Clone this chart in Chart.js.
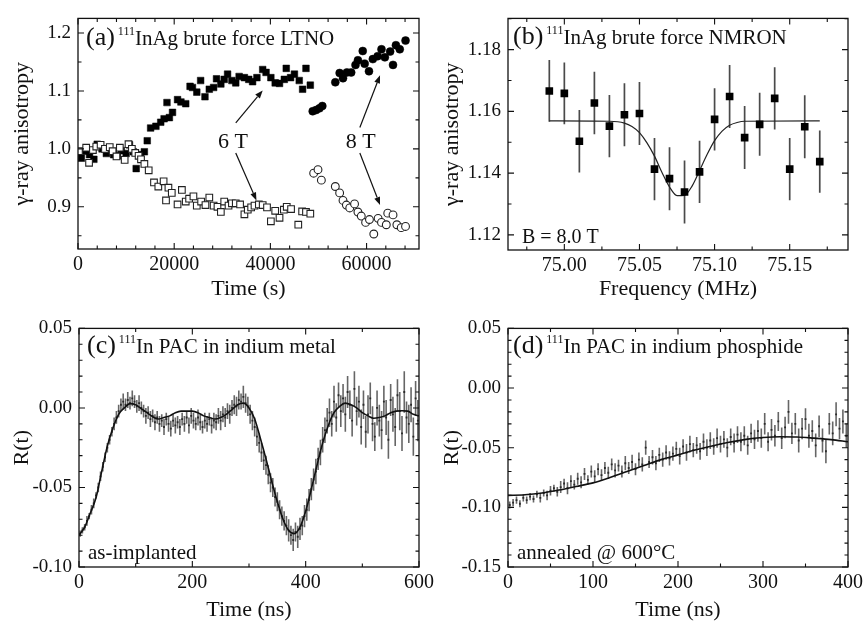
<!DOCTYPE html>
<html>
<head>
<meta charset="utf-8">
<script src="https://cdn.jsdelivr.net/npm/chart.js@4.4.1/dist/chart.umd.min.js"></script>
<style>
  html, body { margin: 0; padding: 0; background: #fff; }
  #wrap { position: relative; width: 867px; height: 627px; overflow: hidden; background: #fff; }
  canvas { position: absolute; }
</style>
</head>
<body>
<div id="wrap">
  <canvas id="chartC" width="445" height="317" style="left:0;top:310px"></canvas>
  <canvas id="chartD" width="437" height="317" style="left:430px;top:310px"></canvas>
  <canvas id="chartA" width="430" height="305" style="left:0;top:0"></canvas>
  <canvas id="chartB" width="437" height="305" style="left:430px;top:0"></canvas>
</div>
<script>
const FONT = '"Liberation Serif", "Times New Roman", Times, serif';
const INK = '#111';

// ---------------- (a) brute force LTNO ----------------
const aXTicks = [0, 20000, 40000, 60000];
const aYTicks = [0.9, 1.0, 1.1, 1.2];
// [time (s), anisotropy]
const aFilledSquares = [
  [700, 0.984], [1600, 0.996], [2400, 0.990], [3300, 0.982], [4000, 1.008], [5000, 1.000],
  [5900, 0.992], [6800, 0.995], [7400, 0.990], [8200, 0.988], [9000, 0.997], [10000, 0.992],
  [10700, 1.007], [11500, 0.995], [12100, 0.966], [13000, 0.990], [13800, 0.995], [14400, 1.014],
  [15100, 1.036], [16200, 1.039], [17200, 1.046], [17900, 1.052], [18500, 1.080], [19000, 1.054],
  [19650, 1.063], [20700, 1.085], [21400, 1.081], [22400, 1.078], [23300, 1.108], [23800, 1.106],
  [24700, 1.098], [25500, 1.118], [26400, 1.090], [27300, 1.103], [28200, 1.106], [28800, 1.121],
  [29700, 1.112], [30400, 1.120], [31100, 1.129], [32000, 1.118], [32800, 1.114], [33500, 1.125],
  [34600, 1.123], [35500, 1.120], [36300, 1.116], [37200, 1.123], [38400, 1.137], [39100, 1.132],
  [40100, 1.123], [41000, 1.114], [41900, 1.113], [42900, 1.120], [43300, 1.139], [44200, 1.123],
  [45000, 1.129], [46000, 1.118], [46700, 1.103], [47400, 1.139], [48300, 1.110]
];
const aOpenSquares = [
  [200, 0.996], [1700, 1.002], [2300, 0.976], [3100, 0.998], [3800, 1.004], [4700, 1.007],
  [5600, 1.000], [6600, 1.003], [7200, 0.996], [8000, 0.987], [8700, 1.002], [9700, 0.981],
  [10500, 1.008], [11200, 1.000], [11900, 0.993], [12600, 0.988], [13100, 0.982], [13800, 0.974],
  [14700, 0.963], [15800, 0.942], [16700, 0.935], [17800, 0.944], [18300, 0.911], [18800, 0.933],
  [19500, 0.924], [20700, 0.904], [21600, 0.929], [22400, 0.909], [23100, 0.914], [24000, 0.918],
  [24700, 0.902], [25600, 0.909], [26500, 0.903], [27300, 0.916], [28200, 0.902], [29000, 0.900],
  [29700, 0.891], [30400, 0.909], [31300, 0.902], [32000, 0.906], [32800, 0.906], [33700, 0.904],
  [34600, 0.887], [35300, 0.895], [36000, 0.899], [36700, 0.902], [37600, 0.904], [38400, 0.903],
  [39300, 0.899], [40100, 0.875], [41000, 0.893], [41900, 0.881], [42800, 0.895], [43400, 0.900],
  [44300, 0.896], [45800, 0.869], [46600, 0.892], [47400, 0.891], [48300, 0.888]
];
const aFilledCircles = [
  [48800, 1.065], [49500, 1.067], [50200, 1.070], [50800, 1.074], [53500, 1.115], [54400, 1.131],
  [55100, 1.122], [55900, 1.132], [56800, 1.132], [57700, 1.145], [58200, 1.153], [59200, 1.169],
  [59600, 1.147], [60500, 1.134], [61300, 1.155], [62300, 1.160], [63100, 1.172], [63800, 1.158],
  [64900, 1.168], [65500, 1.145], [66100, 1.179], [66900, 1.172], [68100, 1.187]
];
const aOpenCircles = [
  [49000, 0.958], [49900, 0.964], [50600, 0.946], [53500, 0.935], [54400, 0.924], [55100, 0.911],
  [55800, 0.903], [56500, 0.898], [57500, 0.905], [58200, 0.891], [58900, 0.884], [59800, 0.873],
  [60600, 0.878], [61500, 0.853], [62400, 0.880], [63100, 0.873], [64100, 0.869], [64400, 0.889],
  [65500, 0.886], [66300, 0.869], [67200, 0.864], [68100, 0.866]
];
const aFieldLabels = [
  { text: '6 T', x: 32200, y: 1.012 },
  { text: '8 T', x: 58800, y: 1.012 }
];
// [x0, y0, x1, y1] in data units, head at (x1, y1)
const aArrows = [
  [32800, 1.045, 38400, 1.101],
  [32800, 0.993, 37100, 0.911],
  [58600, 1.037, 62800, 1.127],
  [58600, 0.993, 62800, 0.903]
];

// ---------------- (b) NMRON ----------------
const bXTicks = [75.00, 75.05, 75.10, 75.15];
const bYTicks = [1.12, 1.14, 1.16, 1.18];
const bFreq = [74.99, 75.00, 75.01, 75.02, 75.03, 75.04, 75.05, 75.06, 75.07, 75.08,
               75.09, 75.10, 75.11, 75.12, 75.13, 75.14, 75.15, 75.16, 75.17];
const bAniso = [1.1666, 1.1658, 1.1503, 1.1627, 1.1552, 1.1589, 1.1593, 1.1413, 1.1382, 1.1339,
                1.1404, 1.1574, 1.1648, 1.1515, 1.1558, 1.1642, 1.1413, 1.1550, 1.1437];
const bErr = [0.0100, 0.0100, 0.0101, 0.0101, 0.0101, 0.0102, 0.0102, 0.0101, 0.0102, 0.0102,
              0.0101, 0.0101, 0.0102, 0.0102, 0.0102, 0.0101, 0.0101, 0.0102, 0.0101];
const bFitX = [74.99, 75.03, 75.04, 75.045, 75.05, 75.055, 75.06, 75.065, 75.07, 75.075, 75.08,
               75.085, 75.09, 75.095, 75.10, 75.105, 75.11, 75.115, 75.12, 75.17];
const bFitY = [1.1569, 1.1568, 1.1562, 1.1551, 1.1531, 1.1498, 1.1455, 1.1402, 1.1355, 1.1327, 1.1328,
               1.1358, 1.1408, 1.1460, 1.1505, 1.1536, 1.1555, 1.1564, 1.1568, 1.1569];

// ---------------- (c) PAC in indium metal ----------------
const cXTicks = [0, 200, 400, 600];
const cYTicks = [-0.10, -0.05, 0.00, 0.05];
const cStart = 2, cStep = 4; // channel times in ns
const cR = [
  -0.079, -0.077, -0.075, -0.071, -0.068, -0.064, -0.060, -0.055, -0.050, -0.043,
  -0.037, -0.031, -0.025, -0.020, -0.015, -0.010, -0.006, -0.002, 0.002, 0.004,
  0.002, 0.005, 0.003, 0.006, 0.004, 0.001, 0.003, 0.000, -0.002, -0.005,
  -0.003, -0.007, -0.005, -0.009, -0.006, -0.010, -0.008, -0.012, -0.007, -0.010,
  -0.013, -0.008, -0.011, -0.009, -0.012, -0.007, -0.010, -0.006, -0.011, -0.005,
  -0.008, -0.010, -0.006, -0.009, -0.012, -0.008, -0.010, -0.007, -0.011, -0.008,
  -0.009, -0.005, -0.008, -0.004, -0.006, -0.002, -0.004, 0.000, 0.002, 0.001,
  0.005, 0.004, 0.007, 0.003, 0.001, -0.004, -0.008, -0.012, -0.018, -0.022,
  -0.028, -0.033, -0.036, -0.042, -0.047, -0.050, -0.056, -0.059, -0.064, -0.068,
  -0.071, -0.074, -0.077, -0.080, -0.083, -0.078, -0.081, -0.076, -0.074, -0.068,
  -0.064, -0.058, -0.051, -0.045, -0.040, -0.032, -0.028, -0.020, -0.014, -0.008,
  -0.003, -0.010, 0.004, -0.006, 0.008, -0.002, 0.006, -0.004, 0.010, 0.002,
  -0.008, 0.012, -0.002, 0.004, -0.012, 0.002, -0.015, -0.004, 0.006, -0.010,
  -0.018, 0.000, -0.008, -0.014, 0.004, -0.006, -0.020, 0.005, -0.004, -0.012,
  0.008, -0.002, -0.016, 0.010, -0.006, -0.010, 0.002, -0.018, 0.006, -0.008
];
const cErr = [
  0.002, 0.002, 0.002, 0.003, 0.002, 0.003, 0.003, 0.002, 0.003, 0.003,
  0.003, 0.003, 0.003, 0.003, 0.003, 0.004, 0.004, 0.004, 0.004, 0.005,
  0.004, 0.005, 0.004, 0.005, 0.004, 0.004, 0.005, 0.004, 0.004, 0.005,
  0.004, 0.005, 0.004, 0.005, 0.004, 0.005, 0.004, 0.005, 0.004, 0.005,
  0.005, 0.004, 0.005, 0.004, 0.005, 0.004, 0.005, 0.004, 0.005, 0.005,
  0.005, 0.004, 0.005, 0.005, 0.004, 0.005, 0.005, 0.004, 0.005, 0.005,
  0.005, 0.005, 0.006, 0.005, 0.006, 0.005, 0.006, 0.005, 0.006, 0.006,
  0.006, 0.005, 0.007, 0.006, 0.006, 0.006, 0.006, 0.006, 0.006, 0.006,
  0.006, 0.006, 0.006, 0.006, 0.006, 0.006, 0.006, 0.006, 0.006, 0.006,
  0.006, 0.006, 0.007, 0.006, 0.007, 0.006, 0.007, 0.007, 0.006, 0.007,
  0.007, 0.007, 0.007, 0.007, 0.008, 0.007, 0.008, 0.008, 0.008, 0.008,
  0.009, 0.008, 0.010, 0.009, 0.008, 0.010, 0.009, 0.011, 0.010, 0.009,
  0.010, 0.011, 0.009, 0.010, 0.011, 0.009, 0.010, 0.012, 0.010, 0.011,
  0.009, 0.011, 0.010, 0.012, 0.010, 0.011, 0.012, 0.010, 0.011, 0.012,
  0.010, 0.012, 0.011, 0.013, 0.010, 0.012, 0.011, 0.012, 0.011, 0.013
];
const cFitStep = 10;
const cFit = [
  -0.080, -0.075, -0.066, -0.0565, -0.040, -0.024, -0.0125, -0.004, 0.000, 0.0027,
  0.002, -0.0005, -0.003, -0.0055, -0.007, -0.006, -0.005, -0.003, -0.002, -0.002,
  -0.002, -0.003, -0.005, -0.006, -0.007, -0.006, -0.004, -0.001, 0.002, 0.003,
  0.000, -0.007, -0.019, -0.032, -0.046, -0.059, -0.070, -0.077, -0.079, -0.075,
  -0.065, -0.051, -0.036, -0.022, -0.011, -0.003, 0.001, 0.003, 0.002, 0.000,
  -0.003, -0.005, -0.0065, -0.006, -0.005, -0.003, -0.002, -0.0018, -0.002, -0.004,
  -0.005
];

// ---------------- (d) PAC in indium phosphide ----------------
const dXTicks = [0, 100, 200, 300, 400];
const dYTicks = [-0.15, -0.10, -0.05, 0.00, 0.05];
const dStart = 2, dStep = 4;
const dR = [
  -0.098, -0.096, -0.094, -0.097, -0.092, -0.094, -0.091, -0.093, -0.089, -0.092,
  -0.088, -0.090, -0.086, -0.084, -0.087, -0.083, -0.080, -0.084, -0.078, -0.081,
  -0.076, -0.079, -0.072, -0.077, -0.070, -0.074, -0.068, -0.073, -0.067, -0.071,
  -0.064, -0.069, -0.065, -0.070, -0.063, -0.067, -0.062, -0.068, -0.060, -0.064,
  -0.050, -0.062, -0.058, -0.063, -0.056, -0.060, -0.054, -0.059, -0.055, -0.051,
  -0.057, -0.049, -0.054, -0.047, -0.052, -0.048, -0.053, -0.045, -0.050, -0.044,
  -0.049, -0.042, -0.047, -0.043, -0.050, -0.041, -0.046, -0.039, -0.045, -0.040,
  -0.048, -0.038, -0.043, -0.036, -0.042, -0.030, -0.045, -0.035, -0.040, -0.028,
  -0.042, -0.033, -0.020, -0.038, -0.030, -0.044, -0.034, -0.026, -0.040, -0.036,
  -0.048, -0.032, -0.044, -0.053, -0.030, -0.038, -0.022, -0.034, -0.028, -0.040
];
const dErr = [
  0.003, 0.003, 0.003, 0.003, 0.003, 0.003, 0.003, 0.003, 0.003, 0.004,
  0.003, 0.004, 0.004, 0.003, 0.004, 0.005, 0.004, 0.005, 0.005, 0.004,
  0.005, 0.005, 0.005, 0.004, 0.005, 0.005, 0.005, 0.005, 0.005, 0.005,
  0.005, 0.006, 0.005, 0.005, 0.006, 0.005, 0.006, 0.005, 0.006, 0.006,
  0.006, 0.005, 0.006, 0.006, 0.006, 0.006, 0.006, 0.006, 0.006, 0.006,
  0.007, 0.006, 0.007, 0.007, 0.006, 0.007, 0.007, 0.007, 0.007, 0.007,
  0.007, 0.008, 0.007, 0.007, 0.008, 0.007, 0.008, 0.007, 0.008, 0.008,
  0.008, 0.008, 0.008, 0.009, 0.008, 0.009, 0.008, 0.009, 0.009, 0.008,
  0.009, 0.009, 0.010, 0.009, 0.009, 0.010, 0.009, 0.009, 0.010, 0.009,
  0.010, 0.009, 0.010, 0.010, 0.009, 0.010, 0.010, 0.009, 0.010, 0.010
];
const dFitStep = 20;
const dFit = [
  -0.0900, -0.0895, -0.0880, -0.0855, -0.0825, -0.0795, -0.0750, -0.0700, -0.0650, -0.0600,
  -0.0560, -0.0520, -0.0485, -0.0455, -0.0430, -0.0415, -0.0408, -0.0410, -0.0420, -0.0432,
  -0.0450
];

// ---------------- helpers ----------------
const pairs = arr => arr.map(([x, y]) => ({ x, y }));
const series = (xs, ys) => ys.map((y, i) => ({ x: xs[i], y }));
const grid = (start, step, n) => Array.from({ length: n }, (_, i) => start + i * step);

function errorBars(xs, ys, es) {
  const pts = [];
  xs.forEach((x, i) => {
    pts.push({ x, y: ys[i] - es[i] }, { x, y: ys[i] + es[i] }, { x, y: null });
  });
  return pts;
}

function buildScale(o) {
  return {
    type: 'linear',
    min: o.min,
    max: o.max,
    grid: { display: false, drawTicks: false },
    border: { display: false },
    ticks: {
      color: INK,
      font: { family: FONT, size: o.fontSize },
      padding: o.pad,
      maxRotation: 0,
      autoSkip: false,
      callback: v => o.fmt(v)
    },
    afterBuildTicks: s => { s.ticks = o.ticks.map(v => ({ value: v })); },
    afterFit: s => { if (o.horizontal) s.height = o.extent; else s.width = o.extent; },
    title: {
      display: true,
      text: o.title,
      color: INK,
      font: { family: FONT, size: 22 },
      padding: o.titlePad
    }
  };
}

// box with inward major/minor ticks on all four sides
const framePlugin = {
  id: 'frame',
  afterDatasetsDraw(chart) {
    const f = chart.options.plugins.frame;
    const { ctx, chartArea: a, scales: { x, y } } = chart;
    ctx.save();
    ctx.strokeStyle = INK;
    ctx.lineWidth = 1.3;
    ctx.strokeRect(a.left, a.top, a.right - a.left, a.bottom - a.top);
    ctx.lineWidth = 1.1;
    const marks = (scale, major, minor, draw) => {
      const k0 = Math.ceil(scale.min / minor - 1e-6);
      const k1 = Math.floor(scale.max / minor + 1e-6);
      for (let k = k0; k <= k1; k++) {
        const v = k * minor;
        const r = v / major;
        const isMajor = Math.abs(r - Math.round(r)) < 1e-6;
        draw(scale.getPixelForValue(v), isMajor ? 6 : 3.5);
      }
    };
    ctx.beginPath();
    marks(x, f.xMajor, f.xMinor, (px, len) => {
      ctx.moveTo(px, a.bottom); ctx.lineTo(px, a.bottom - len);
      ctx.moveTo(px, a.top); ctx.lineTo(px, a.top + len);
    });
    marks(y, f.yMajor, f.yMinor, (py, len) => {
      ctx.moveTo(a.left, py); ctx.lineTo(a.left + len, py);
      ctx.moveTo(a.right, py); ctx.lineTo(a.right - len, py);
    });
    ctx.stroke();
    ctx.restore();
  }
};

// panel label, corner notes, field labels and arrows
const notesPlugin = {
  id: 'notes',
  afterDraw(chart) {
    const o = chart.options.plugins.notes;
    const { ctx, chartArea: a, scales: { x, y } } = chart;
    ctx.save();
    ctx.fillStyle = INK;
    ctx.strokeStyle = INK;
    ctx.textAlign = 'left';
    ctx.textBaseline = 'alphabetic';

    let cx = a.left + o.label.dx;
    const base = a.top + o.label.dy;
    o.label.parts.forEach(p => {
      ctx.font = `${p.size}px ${FONT}`;
      ctx.fillText(p.text, cx, base - (p.rise || 0));
      cx += ctx.measureText(p.text).width + (p.gap || 0);
    });

    (o.corner || []).forEach(t => {
      ctx.font = `${t.size}px ${FONT}`;
      ctx.fillText(t.text, a.left + t.dx, a.top + t.dy);
    });

    ctx.textAlign = 'center';
    ctx.textBaseline = 'middle';
    (o.fieldLabels || []).forEach(t => {
      ctx.font = `22px ${FONT}`;
      ctx.fillText(t.text, x.getPixelForValue(t.x), y.getPixelForValue(t.y));
    });

    ctx.lineWidth = 1.2;
    (o.arrows || []).forEach(([x0, y0, x1, y1]) => {
      const px0 = x.getPixelForValue(x0), py0 = y.getPixelForValue(y0);
      const px1 = x.getPixelForValue(x1), py1 = y.getPixelForValue(y1);
      const ang = Math.atan2(py1 - py0, px1 - px0);
      const hl = 8, hw = 3;
      const bx = px1 - hl * Math.cos(ang), by = py1 - hl * Math.sin(ang);
      ctx.beginPath();
      ctx.moveTo(px0, py0);
      ctx.lineTo(bx, by);
      ctx.stroke();
      ctx.beginPath();
      ctx.moveTo(px1, py1);
      ctx.lineTo(bx + hw * Math.sin(ang), by - hw * Math.cos(ang));
      ctx.lineTo(bx - hw * Math.sin(ang), by + hw * Math.cos(ang));
      ctx.closePath();
      ctx.fill();
    });
    ctx.restore();
  }
};

function makeChart(id, datasets, cfg) {
  return new Chart(document.getElementById(id), {
    type: 'scatter',
    data: { datasets },
    plugins: [framePlugin, notesPlugin],
    options: {
      responsive: false,
      animation: false,
      events: [],
      layout: { autoPadding: false, padding: cfg.padding },
      scales: { x: buildScale(cfg.x), y: buildScale(cfg.y) },
      plugins: {
        legend: { display: false },
        tooltip: { enabled: false },
        frame: cfg.frame,
        notes: cfg.notes
      }
    }
  });
}

const fmt = d => v => Number(v).toFixed(d);
const title = (tag, rest) => ([
  { text: tag, size: 26, gap: 3 },
  { text: '111', size: 12, rise: 10 },
  { text: rest, size: 21 }
]);

// ---------------- (a) ----------------
makeChart('chartA', [
  { data: pairs(aOpenSquares), pointStyle: 'rect', radius: 4.7, backgroundColor: '#fff', borderColor: '#222', borderWidth: 1.1 },
  { data: pairs(aFilledSquares), pointStyle: 'rect', radius: 4.7, backgroundColor: '#000', borderColor: '#000', borderWidth: 0.5 },
  { data: pairs(aOpenCircles), pointStyle: 'circle', radius: 3.9, backgroundColor: '#fff', borderColor: '#222', borderWidth: 1.1 },
  { data: pairs(aFilledCircles), pointStyle: 'circle', radius: 4, backgroundColor: '#000', borderColor: '#000', borderWidth: 0.5 }
], {
  padding: { top: 7, right: 11, left: 0, bottom: 0 },
  x: { min: 0, max: 70900, ticks: aXTicks, fmt: fmt(0), fontSize: 20, pad: 4, horizontal: true, extent: 56,
       title: 'Time (s)', titlePad: { bottom: 3 } },
  y: { min: 0.8271, max: 1.2253, ticks: aYTicks, fmt: fmt(1), fontSize: 19, pad: 7, extent: 78,
       title: 'γ-ray anisotropy', titlePad: { top: 9 } },
  frame: { xMajor: 20000, xMinor: 4000, yMajor: 0.1, yMinor: 0.05 },
  notes: {
    label: { dx: 8, dy: 27, parts: title('(a)', 'InAg brute force LTNO') },
    fieldLabels: aFieldLabels,
    arrows: aArrows
  }
});

// ---------------- (b) ----------------
makeChart('chartB', [
  { data: series(bFreq, bAniso), pointStyle: 'rect', radius: 5.4, backgroundColor: '#000', borderColor: '#000', borderWidth: 0 },
  { data: series(bFitX, bFitY), showLine: true, pointRadius: 0, borderColor: '#222', borderWidth: 1.2,
    cubicInterpolationMode: 'monotone' },
  { data: errorBars(bFreq, bAniso, bErr), showLine: true, pointRadius: 0, borderColor: '#4a4a4a', borderWidth: 1.7, spanGaps: false }
], {
  padding: { top: 7, right: 19, left: 0, bottom: 0 },
  x: { min: 74.9625, max: 75.1888, ticks: bXTicks, fmt: fmt(2), fontSize: 20, pad: 4, horizontal: true, extent: 55,
       title: 'Frequency (MHz)', titlePad: { bottom: 3 } },
  y: { min: 1.1151, max: 1.1901, ticks: bYTicks, fmt: fmt(2), fontSize: 19, pad: 7, extent: 78,
       title: 'γ-ray anisotropy', titlePad: { top: 9 } },
  frame: { xMajor: 0.05, xMinor: 0.025, yMajor: 0.02, yMinor: 0.01 },
  notes: {
    label: { dx: 5, dy: 26, parts: title('(b)', 'InAg brute force NMRON') },
    corner: [{ text: 'B = 8.0 T', size: 20, dx: 14, dy: 225 }]
  }
});

// ---------------- (c) ----------------
const cTime = grid(cStart, cStep, cR.length);
const cFitTime = grid(0, cFitStep, cFit.length);
makeChart('chartC', [
  { data: series(cFitTime, cFit), showLine: true, pointRadius: 0, borderColor: '#111', borderWidth: 1.6,
    cubicInterpolationMode: 'monotone' },
  { data: series(cTime, cR), pointStyle: 'rect', radius: 1.3, backgroundColor: '#2a2a2a', borderWidth: 0 },
  { data: errorBars(cTime, cR, cErr), showLine: true, pointRadius: 0, borderColor: '#666', borderWidth: 1.6, spanGaps: false }
], {
  padding: { top: 14, right: 26, left: 0, bottom: 0 },
  x: { min: 0, max: 600, ticks: cXTicks, fmt: fmt(0), fontSize: 20, pad: 4, horizontal: true, extent: 60,
       title: 'Time (ns)', titlePad: { bottom: 4 } },
  y: { min: -0.10, max: 0.05, ticks: cYTicks, fmt: fmt(2), fontSize: 19, pad: 7, extent: 79,
       title: 'R(t)', titlePad: { top: 9 } },
  frame: { xMajor: 200, xMinor: 100, yMajor: 0.05, yMinor: 0.01 },
  notes: {
    label: { dx: 8, dy: 25, parts: title('(c)', 'In PAC in indium metal') },
    corner: [{ text: 'as-implanted', size: 21, dx: 9, dy: 231 }]
  }
});

// ---------------- (d) ----------------
const dTime = grid(dStart, dStep, dR.length);
const dFitTime = grid(0, dFitStep, dFit.length);
makeChart('chartD', [
  { data: series(dFitTime, dFit), showLine: true, pointRadius: 0, borderColor: '#111', borderWidth: 1.6,
    cubicInterpolationMode: 'monotone' },
  { data: series(dTime, dR), pointStyle: 'rect', radius: 1.3, backgroundColor: '#2a2a2a', borderWidth: 0 },
  { data: errorBars(dTime, dR, dErr), showLine: true, pointRadius: 0, borderColor: '#666', borderWidth: 1.6, spanGaps: false }
], {
  padding: { top: 14, right: 19, left: 0, bottom: 0 },
  x: { min: 0, max: 400, ticks: dXTicks, fmt: fmt(0), fontSize: 20, pad: 4, horizontal: true, extent: 60,
       title: 'Time (ns)', titlePad: { bottom: 4 } },
  y: { min: -0.15, max: 0.05, ticks: dYTicks, fmt: fmt(2), fontSize: 19, pad: 7, extent: 78,
       title: 'R(t)', titlePad: { top: 9 } },
  frame: { xMajor: 100, xMinor: 50, yMajor: 0.05, yMinor: 0.01 },
  notes: {
    label: { dx: 5, dy: 25, parts: title('(d)', 'In PAC in indium phosphide') },
    corner: [{ text: 'annealed @ 600°C', size: 21, dx: 9, dy: 231 }]
  }
});
</script>
</body>
</html>
